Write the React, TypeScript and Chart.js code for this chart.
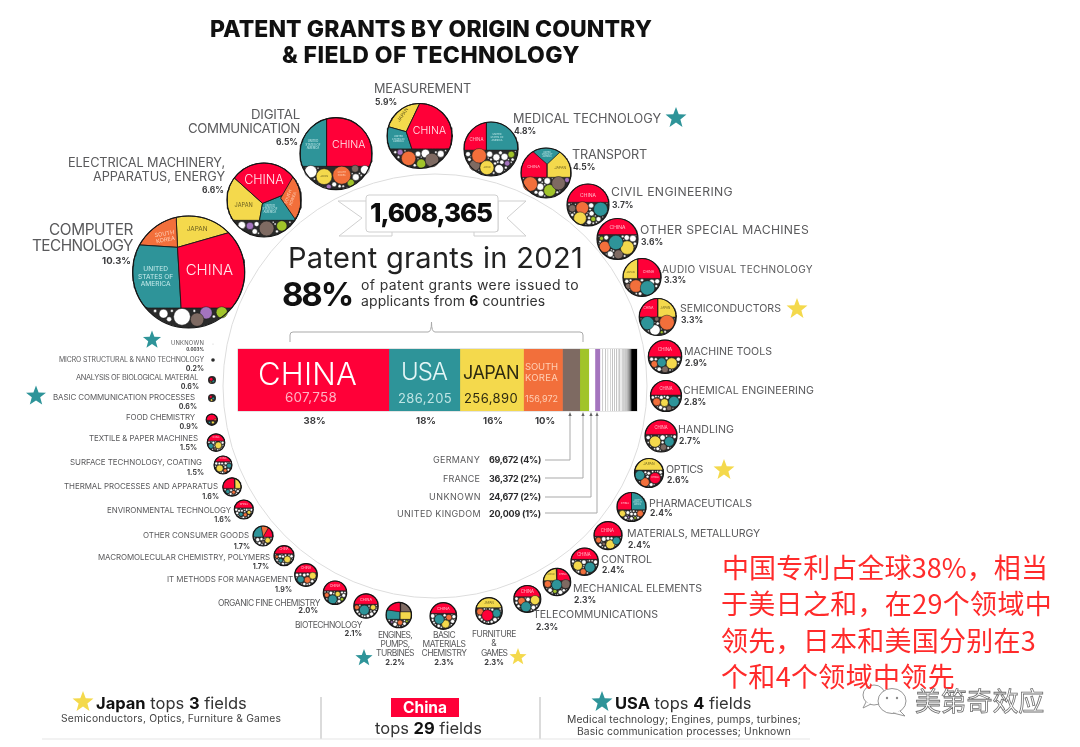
import React, { useEffect, useRef } from "react";
import { Chart, registerables } from "chart.js";
Chart.register(...registerables);

/* ---------- data ---------- */
const totalGrants = 1608365;
const barNames = ["CHINA", "USA", "JAPAN", "SOUTH KOREA", "GERMANY", "FRANCE", "UNKNOWN", "UNITED KINGDOM"];
const barCodes = ["CN", "US", "JP", "KR", "DE", "FR", "XX", "UK"];
const barValues = [607758, 286205, 256890, 156972, 69672, 36372, 24677, 20009];
const otherCountries = [12000, 11000, 10000, 9500, 9000, 8500, 7500, 6800, 6000, 5500, 5000, 4500, 4000, 3600, 3200, 2900, 2600, 2300, 2000, 1800, 1600, 1400, 1200, 1000, 900, 800, 700, 600];
const restOfWorld = 23910;

const fieldNames = [
  "COMPUTER\nTECHNOLOGY", "ELECTRICAL MACHINERY,\nAPPARATUS, ENERGY", "DIGITAL\nCOMMUNICATION", "MEASUREMENT",
  "MEDICAL TECHNOLOGY", "TRANSPORT", "CIVIL ENGINEERING", "OTHER SPECIAL MACHINES", "AUDIO VISUAL TECHNOLOGY",
  "SEMICONDUCTORS", "MACHINE TOOLS", "CHEMICAL ENGINEERING", "HANDLING", "OPTICS", "PHARMACEUTICALS",
  "MATERIALS, METALLURGY", "CONTROL", "MECHANICAL ELEMENTS", "TELECOMMUNICATIONS", "FURNITURE\n&\nGAMES",
  "BASIC\nMATERIALS\nCHEMISTRY", "ENGINES,\nPUMPS,\nTURBINES", "BIOTECHNOLOGY", "ORGANIC FINE CHEMISTRY",
  "IT METHODS FOR MANAGEMENT", "MACROMOLECULAR CHEMISTRY, POLYMERS", "OTHER CONSUMER GOODS", "ENVIRONMENTAL TECHNOLOGY",
  "THERMAL PROCESSES AND APPARATUS", "SURFACE TECHNOLOGY, COATING", "TEXTILE & PAPER MACHINES", "FOOD CHEMISTRY",
  "BASIC COMMUNICATION PROCESSES", "ANALYSIS OF BIOLOGICAL MATERIAL", "MICRO STRUCTURAL & NANO TECHNOLOGY", "UNKNOWN",
];
const fieldShares = ["10.3", "6.6", "6.5", "5.9", "4.8", "4.5", "3.7", "3.6", "3.3", "3.3", "2.9", "2.8", "2.7", "2.6", "2.4", "2.4", "2.4", "2.3", "2.3", "2.3", "2.3", "2.2", "2.1", "2.0", "1.9", "1.7", "1.7", "1.6", "1.6", "1.5", "1.5", "0.9", "0.6", "0.6", "0.2", "0.003"];

/* ---------- style ---------- */
const COLORS: Record<string, string> = { CN: "#FF0038", US: "#2E9499", JP: "#F4D94C", KR: "#F26F3B", DE: "#7E6A62", FR: "#A1C42A", XX: "#FFFFFF", UK: "#A474BE" };
const INNER_TEXT: Record<string, string> = { CN: "CHINA", US: "UNITED\nSTATES OF\nAMERICA", JP: "JAPAN", KR: "SOUTH\nKOREA", DE: "GERMANY" };
const INNER_COLOR: Record<string, string> = { CN: "#ffe8ee", US: "#c8ecec", JP: "#6a5f20", KR: "#ffd2ba", DE: "#cbbdb6" };
const FONT = "Inter, 'Noto Sans', sans-serif";
const CJK = "'Noto Sans CJK SC', sans-serif";
const GREY = "#5a5a5c";

/* ---------- layout: circle c=[x,y,r]; label placement; hub, cut and wedge angles of the
   country cells in circle units; packed bubbles [code,u,v,r]; inner text [code,u,v,size,rotation] ---------- */
type F = any;
const FIELD_LAYOUT: F[] = [
  { c: [188.7, 272, 56], a: "r", tx: 133, ty: [230, 246], s: 14.5, w: [84, 101], p: [131, 261], ps: 9.5, hub: [-.2, -.44], cut: .645,
    cells: [["CN", 344, 446.6], ["US", 86.6, 183.6], ["KR", 183.6, 267.5], ["JP", 267.5, 344]],
    b: [["DE", .15, .85, .12], ["XX", -.12, .8, .15], ["UK", .31, .73, .11], ["FR", .59, .72, .1]],
    t: [["CN", .37, -.04, 15], ["US", -.59, .09, 6.6], ["KR", -.42, -.63, 5.6, -10], ["JP", .15, -.75, 6.4]] },
  { c: [264, 200, 37], a: "r", tx: 225, ty: [163, 177], s: 12, w: [157, 132], p: [224, 190], ps: 8.5, hub: [-.04, .09], cut: .55,
    cells: [["KR", 300, 415.4, [.45, -.05]], ["CN", 222, 338], ["US", 338, 460], ["JP", 100, 222]],
    b: [["DE", .07, .77, .2], ["UK", -.38, .7, .1], ["FR", .48, .7, .14], ["XX", -.6, .68, .1]],
    t: [["CN", 0, -.55, 12.5], ["JP", -.55, .14, 5.6], ["KR", .73, -.05, 4.2, -70], ["US", .16, .27, 2.8]] },
  { c: [336, 153.6, 36], a: "r", tx: 300, ty: [115, 129], s: 12.5, w: [49, 112], p: [298, 142], ps: 8.5, hub: [-.26, .355], cut: .355,
    cells: [["CN", 270, 360], ["US", 180, 270]],
    b: [["JP", -.33, .64, .22], ["KR", .16, .6, .25], ["XX", -.7, .5, .17], ["DE", .53, .42, .1], ["FR", .41, .81, .1], ["UK", -.2, .92, .07], ["XX", .8, .45, .12]],
    t: [["CN", .35, -.23, 10.5], ["US", -.64, -.23, 2.8], ["JP", -.33, .64, 2.4], ["KR", .16, .6, 2.4]] },
  { c: [419.6, 136, 32.5], a: "l", tx: 374, ty: [89], s: 12, w: [97], p: [375, 102], ps: 8.5, hub: [-.41, -.13], cut: .4,
    cells: [["CN", 295.4, 431.9], ["US", 71.9, 195.8], ["JP", 195.8, 295.4]],
    b: [["KR", -.34, .69, .22], ["DE", .38, .74, .21], ["FR", .05, .85, .14], ["UK", -.6, .5, .09], ["XX", .18, .54, .13]],
    t: [["CN", .3, -.15, 10.5], ["JP", -.5, -.65, 4.8, -55], ["US", -.65, .12, 2.4]] },
  { c: [491, 149, 27], a: "l", tx: 513, ty: [119], s: 12, w: [148], p: [514, 131], ps: 8.5, hub: [-.17, .04], cut: .04,
    cells: [["CN", 180, 270], ["US", 270, 360]],
    b: [["JP", -.15, .69, .26], ["KR", -.44, .25, .27], ["DE", -.6, .6, .2], ["FR", .75, .2, .12], ["UK", .6, .53, .1], ["XX", .2, .31, .13]],
    t: [["CN", -.54, -.33, 4.4], ["US", .22, -.4, 2.4], ["JP", -.15, .69, 2.2]] },
  { c: [546, 173, 25], a: "l", tx: 572, ty: [155], s: 12, w: [75], p: [573, 167], ps: 8.5, hub: [.04, -.35], cut: .17,
    cells: [["CN", 90, 222], ["US", 222, 316.5], ["JP", 316.5, 450]],
    b: [["KR", -.63, .44, .29], ["DE", .5, .41, .27], ["FR", .15, .7, .24], ["UK", .84, .28, .1], ["XX", -.23, .55, .14]],
    t: [["CN", -.5, -.23, 4], ["US", .04, -.78, 2], ["JP", .57, -.19, 3.6]] },
  { c: [588, 205, 21], a: "l", tx: 611, ty: [192], s: 11.5, w: [122], p: [612, 205], ps: 8.5, hub: [0, -.13], cut: -.13,
    cells: [["CN", 180, 360]],
    b: [["US", .6, .2, .33], ["KR", -.27, .14, .3], ["JP", -.38, .63, .3], ["DE", -.75, .16, .17], ["FR", .25, .67, .12], ["XX", .17, .4, .12]],
    t: [["CN", 0, -.43, 5]] },
  { c: [617.5, 239, 20.5], a: "l", tx: 640, ty: [230], s: 11.5, w: [169], p: [641, 242], ps: 8.5, hub: [0, -.22], cut: -.22,
    cells: [["CN", 180, 360]],
    b: [["US", -.08, .17, .35], ["JP", .47, .42, .33], ["KR", -.62, .38, .27], ["DE", .05, .75, .22], ["FR", -.78, -.03, .1]],
    t: [["CN", 0, -.52, 5]] },
  { c: [642, 277.5, 19], a: "l", tx: 662, ty: [269], s: 9.5, w: [151], p: [664, 280], ps: 8.5, hub: [-.23, .05], cut: .05,
    cells: [["JP", 180, 270], ["CN", 270, 360]],
    b: [["US", .29, .55, .38], ["KR", -.32, .45, .33], ["XX", .52, .23, .14], ["DE", -.73, .46, .15]],
    t: [["JP", -.6, -.27, 2.6], ["CN", .34, -.27, 3.6]] },
  { c: [657.7, 317, 18.5], a: "l", tx: 680, ty: [309], s: 10, w: [101], p: [681, 320], ps: 8.5, hub: [0, 0], cut: 0,
    cells: [["CN", 180, 270], ["JP", 270, 360]],
    b: [["KR", .5, .3, .4], ["US", -.56, .33, .36], ["XX", -.15, .7, .28], ["DE", -.05, .11, .12], ["FR", .22, .82, .08]],
    t: [["CN", -.5, -.44, 3.2], ["JP", .42, -.44, 3]] },
  { c: [665, 356.7, 16.7], a: "l", tx: 684, ty: [352], s: 10, w: [88], p: [685, 363], ps: 8.5, hub: [0, 0], cut: 0,
    cells: [["CN", 180, 360]],
    b: [["JP", .4, .4, .33], ["US", -.2, .34, .27], ["KR", -.64, .44, .2], ["DE", 0, .76, .2]],
    t: [["CN", 0, -.4, 4.4]] },
  { c: [666, 396, 15.5], a: "l", tx: 683, ty: [391], s: 10, w: [131], p: [684, 402], ps: 8.5, hub: [0, -.06], cut: -.06,
    cells: [["CN", 180, 360]],
    b: [["US", .51, .36, .34], ["JP", -.1, .43, .25], ["KR", -.6, .38, .25], ["DE", .2, .79, .17]],
    t: [["CN", 0, -.45, 4.2]] },
  { c: [661, 436, 16], a: "l", tx: 678, ty: [430], s: 10, w: [56], p: [679, 441], ps: 8.5, hub: [0, -.1], cut: -.1,
    cells: [["CN", 180, 360]],
    b: [["JP", -.37, .35, .35], ["DE", .15, .7, .2], ["US", .52, .35, .3]],
    t: [["CN", 0, -.5, 4.2]] },
  { c: [649, 473, 14.5], a: "l", tx: 666, ty: [470], s: 10, w: [37], p: [667, 480], ps: 8.5, hub: [0, -.2], cut: -.2,
    cells: [["JP", 180, 360]],
    b: [["CN", .42, .35, .38], ["US", -.63, .16, .33], ["KR", -.28, .63, .3], ["XX", -.02, .02, .12]],
    t: [["JP", 0, -.55, 3.4], ["CN", .42, .35, 2.4]] },
  { c: [631.5, 507, 14.5], a: "l", tx: 649, ty: [504], s: 10, w: [103], p: [650, 513], ps: 8.5, hub: [0, .19], cut: .19,
    cells: [["CN", 180, 270], ["US", 270, 360]],
    b: [["JP", -.63, .45, .22], ["KR", .6, .45, .22], ["XX", 0, .48, .12], ["UK", -.2, .7, .08], ["FR", .25, .75, .09]],
    t: [["CN", -.45, -.25, 2.6], ["US", .42, -.25, 1.6]] },
  { c: [608, 535.6, 14], a: "l", tx: 627, ty: [534], s: 10, w: [133], p: [628, 545], ps: 8.5, hub: [0, .05], cut: .05,
    cells: [["CN", 180, 360]],
    b: [["JP", .17, .63, .32], ["US", .6, .37, .27], ["KR", -.68, .32, .2], ["DE", -.3, .6, .13]],
    t: [["CN", -.05, -.32, 4.2]] },
  { c: [584.6, 561.7, 13.7], a: "l", tx: 601, ty: [560], s: 10, w: [51], p: [602, 570], ps: 8.5, hub: [0, -.17], cut: -.17,
    cells: [["CN", 180, 360]],
    b: [["JP", -.49, .29, .33], ["US", .39, .41, .37], ["KR", -.1, .73, .22]],
    t: [["CN", -.05, -.5, 4.2]] },
  { c: [557, 582, 13.7], a: "l", tx: 573, ty: [589], s: 10, w: [129], p: [574, 600], ps: 8.5, hub: [-.02, -.1], cut: -.1,
    cells: [["JP", 180, 270], ["CN", 270, 360]],
    b: [["US", -.02, .2, .37], ["KR", -.68, .15, .25], ["DE", .63, .15, .33], ["FR", -.15, .68, .15]],
    t: [["JP", -.45, -.5, 2.2], ["CN", .42, -.5, 2.4]] },
  { c: [527.3, 599, 13.5], a: "l", tx: 533, ty: [615], s: 10, w: [125], p: [536, 627], ps: 8.5, hub: [0, -.17], cut: -.17,
    cells: [["CN", 180, 360]],
    b: [["US", -.1, .58, .37], ["JP", .57, .08, .34], ["KR", -.42, .15, .27]],
    t: [["CN", 0, -.5, 4.2]] },
  { c: [489, 611, 13.3], a: "c", tx: 494, ty: [634, 643, 653], s: 8, w: [44, 0, 26], p: [494, 663], ps: 7.5, hub: [0, -.25], cut: -.25,
    cells: [["JP", 180, 360]],
    b: [["CN", -.12, .33, .42], ["US", .57, .17, .3], ["KR", -.67, .05, .25]],
    t: [["JP", 0, -.55, 3]] },
  { c: [443.3, 616, 13.3], a: "c", tx: 444, ty: [635, 644, 653], s: 8, w: [22, 43, 45], p: [444, 663], ps: 7.5, hub: [0, -.2], cut: -.2,
    cells: [["CN", 180, 360]],
    b: [["US", -.3, .25, .36], ["JP", .17, .6, .3], ["KR", .42, .1, .22]],
    t: [["CN", 0, -.5, 4]] },
  { c: [398.8, 615, 12.7], a: "c", tx: 395, ty: [635, 644, 653], s: 8, w: [34, 29, 38], p: [395, 663], ps: 7.5, hub: [.1, -.26], cut: .34,
    cells: [["CN", 188, 274], ["DE", 274, 360], ["JP", 0, 90], ["US", 90, 188]],
    b: [["KR", .1, .6, .2], ["FR", .63, .5, .1], ["UK", -.55, .55, .1]],
    t: [] },
  { c: [366, 606, 12.2], a: "r", tx: 362, ty: [625], s: 8, w: [67], p: [362, 634], ps: 7.5, hub: [0, -.14], cut: -.14,
    cells: [["CN", 180, 360]],
    b: [["US", -.14, .33, .4], ["JP", .58, .11, .22], ["KR", -.75, .11, .2]],
    t: [["CN", 0, -.5, 3.8]] },
  { c: [335, 592.7, 11.7], a: "r", tx: 320, ty: [603], s: 8, w: [102], p: [318, 611], ps: 7.5, hub: [0, -.17], cut: -.17,
    cells: [["CN", 180, 360]],
    b: [["US", -.2, .57, .38], ["JP", .23, .11, .22], ["KR", -.7, .2, .2], ["FR", .6, .55, .15]],
    t: [["CN", 0, -.5, 3.4]] },
  { c: [306, 575, 11.3], a: "r", tx: 293, ty: [580], s: 7.5, w: [126], p: [292, 589], ps: 7, hub: [0, -.2], cut: -.2,
    cells: [["CN", 180, 360]],
    b: [["US", -.47, .38, .3], ["KR", .12, .44, .28], ["JP", .59, .06, .3]],
    t: [["CN", 0, -.55, 3.2]] },
  { c: [284, 555.7, 10], a: "r", tx: 270, ty: [558], s: 7.5, w: [172], p: [269, 566], ps: 7, hub: [0, -.2], cut: -.2,
    cells: [["CN", 180, 360]],
    b: [["JP", .33, .37, .33], ["US", -.33, .47, .2], ["KR", -.72, .1, .16]],
    t: [["CN", 0, -.55, 2.8]] },
  { c: [263, 536, 10], a: "r", tx: 249, ty: [536], s: 7.5, w: [106], p: [250, 546], ps: 7, hub: [0, .1], cut: .1,
    cells: [["US", 180, 260], ["KR", 260, 300], ["CN", 300, 360]],
    b: [["JP", .47, .43, .27], ["XX", -.53, .37, .2], ["DE", .02, .6, .16]],
    t: [] },
  { c: [243.8, 509.5, 9.5], a: "r", tx: 231, ty: [511], s: 7.5, w: [124], p: [231, 519], ps: 7, hub: [0, -.17], cut: -.17,
    cells: [["CN", 180, 360]],
    b: [["US", -.3, .5, .22], ["KR", .15, .55, .2], ["JP", .55, .3, .2]],
    t: [["CN", 0, -.55, 2.6]] },
  { c: [232, 487, 9.2], a: "r", tx: 218, ty: [487], s: 7.5, w: [154], p: [219, 496], ps: 7, hub: [.3, .15], cut: .15,
    cells: [["CN", 180, 270], ["JP", 270, 360]],
    b: [["US", -.46, .5, .22], ["KR", .18, .57, .2]],
    t: [] },
  { c: [223, 465, 9], a: "r", tx: 202, ty: [463], s: 7.5, w: [132], p: [204, 472], ps: 7, hub: [0, -.37], cut: -.37,
    cells: [["CN", 180, 360]],
    b: [["JP", -.37, .37, .38], ["US", .67, .07, .27], ["KR", .25, .62, .2]],
    t: [["CN", 0, -.65, 2.2]] },
  { c: [216, 442.7, 8.8], a: "r", tx: 198, ty: [439], s: 7.5, w: [109], p: [197, 447], ps: 7, hub: [0, -.2], cut: -.2,
    cells: [["CN", 180, 360]],
    b: [["JP", .27, .3, .38], ["US", -.6, .38, .3], ["DE", -.1, .7, .15]],
    t: [["CN", 0, -.55, 2.2]] },
  { c: [211.8, 419.7, 5.6], a: "r", tx: 195, ty: [418], s: 7.5, w: [69], p: [198, 426], ps: 7, hub: [0, .1], cut: .1,
    cells: [["CN", 180, 360]],
    b: [["JP", .2, .5, .25], ["US", -.4, .5, .2], ["KR", .6, 0, .2]],
    t: [] },
  { c: [212, 398, 4], a: "r", tx: 195, ty: [398], s: 7.5, w: [142], p: [197, 406], ps: 7, hub: [0, -1], cut: -1, cells: [],
    b: [["CN", -.3, -.3, .35], ["US", .3, .1, .3], ["JP", -.1, .5, .3]], t: [] },
  { c: [212, 380, 4], a: "r", tx: 198, ty: [378], s: 7, w: [122], p: [199, 386], ps: 7, hub: [0, -1], cut: -1, cells: [],
    b: [["CN", -.2, -.2, .45], ["US", .3, .3, .3], ["JP", -.3, .5, .2]], t: [] },
  { c: [213, 360, 1.8], a: "r", tx: 204, ty: [360], s: 6.5, w: [145], p: [204, 368], ps: 7, hub: [0, -1], cut: -1, cells: [], b: [], t: [] },
  { c: [213, 344, .3], a: "r", tx: 204, ty: [343], s: 5.5, w: [33], p: [204, 350], ps: 4.5, hub: [0, -1], cut: -1, cells: [], b: [], t: [] },
];

const STARS: [number, number, number, string][] = [
  [676, 118, 11, "US"], [797, 309, 11, "JP"], [724, 470, 11, "JP"], [518, 657, 9, "JP"], [364, 658, 9, "US"],
  [36, 396, 10.5, "US"], [152, 340, 9.5, "US"], [83, 702, 11, "JP"], [602, 702, 11, "US"],
];

/* ---------- geometry ---------- */
function cellOutline(hub: number[], cut: number, a0: number, a1: number) {
  const pts: number[][] = [[hub[0], hub[1]]];
  const n = Math.max(2, Math.ceil((a1 - a0) / 3));
  for (let i = 0; i <= n; i++) {
    const th = ((a0 + ((a1 - a0) * i) / n) * Math.PI) / 180;
    const c = Math.cos(th), s = Math.sin(th);
    const b = hub[0] * c + hub[1] * s;
    const k = hub[0] * hub[0] + hub[1] * hub[1] - 1;
    let t = -b + Math.sqrt(Math.max(0, b * b - k));
    if (hub[1] + t * s > cut && s > 1e-6) t = Math.max(0, (cut - hub[1]) / s);
    pts.push([hub[0] + t * c, hub[1] + t * s]);
  }
  pts.push([hub[0], hub[1]]);
  return pts;
}

function packOthers(f: F) {
  const R = f.c[2];
  const occupied: number[][] = f.b.map((b: any[]) => [b[1], b[2], b[3]]);
  const placed: number[][] = [];
  if (R < 6) return placed;
  const cand: number[][] = [];
  for (let v = f.cut; v <= 1; v += 0.05) for (let u = -1; u <= 1; u += 0.05) if (u * u + v * v < 1) cand.push([u, v]);
  cand.sort((p, q) => q[0] * q[0] + q[1] * q[1] - (p[0] * p[0] + p[1] * p[1]));
  for (const pass of [1, 0.65]) {
    for (const val of otherCountries) {
      const ru = 0.16 * Math.sqrt(val / otherCountries[0]) * pass;
      if (ru * R < 0.55) continue;
      for (const [u, v] of cand) {
        if (Math.hypot(u, v) + ru > 0.96 || v - ru < f.cut + 0.02) continue;
        let ok = true;
        for (const o of occupied) if (Math.hypot(u - o[0], v - o[1]) < ru + o[2] + 0.015) { ok = false; break; }
        if (!ok) continue;
        occupied.push([u, v, ru]);
        placed.push([u, v, ru]);
        break;
      }
    }
  }
  return placed;
}

function buildMainDatasets() {
  const ds: any[] = [];
  ds.push({ type: "bubble", label: "ring", data: [{ x: 435, y: 386, r: 212 }], backgroundColor: "rgba(255,255,255,0)", borderColor: "#dddddd", borderWidth: 1, order: 1000 });
  ds.push({
    type: "bubble", label: "fields", order: 900, backgroundColor: "#2a2a2a", borderColor: "#2a2a2a", borderWidth: 0,
    data: FIELD_LAYOUT.map((f) => ({ x: f.c[0], y: f.c[1], r: f.c[2] })),
  });
  FIELD_LAYOUT.forEach((f, i) => {
    const R = f.c[2];
    f.cells.forEach((cell: any[]) => {
      const [code, a0, a1, ownHub] = cell;
      ds.push({
        type: "scatter", label: fieldNames[i] + " " + code, order: 800, showLine: true, fill: "shape", tension: 0,
        pointRadius: 0, backgroundColor: COLORS[code], borderColor: "#1a1a1a", borderWidth: R > 30 ? 0.9 : 0.5,
        data: cellOutline(ownHub || f.hub, f.cut, a0, a1).map(([u, v]) => ({ x: f.c[0] + u * R, y: f.c[1] + v * R })),
      });
    });
  });
  Object.keys(COLORS).forEach((code) => {
    const data: any[] = [];
    FIELD_LAYOUT.forEach((f) => f.b.forEach((b: any[]) => {
      if (b[0] === code) data.push({ x: f.c[0] + b[1] * f.c[2], y: f.c[1] + b[2] * f.c[2], r: b[3] * f.c[2] });
    }));
    ds.push({ type: "bubble", label: code, order: 700, data, backgroundColor: COLORS[code], borderColor: "#1a1a1a", borderWidth: 0.5 });
  });
  const minor: any[] = [];
  FIELD_LAYOUT.forEach((f) => packOthers(f).forEach(([u, v, r]) => minor.push({ x: f.c[0] + u * f.c[2], y: f.c[1] + v * f.c[2], r: r * f.c[2] })));
  ds.push({ type: "bubble", label: "other countries", order: 690, data: minor, backgroundColor: "#ffffff", borderColor: "#1a1a1a", borderWidth: 0.4 });
  ds.push({
    type: "bubble", label: "rims", order: 600, backgroundColor: "rgba(0,0,0,0)", borderColor: "#161616", borderWidth: 1.2,
    data: FIELD_LAYOUT.filter((f) => f.c[2] > 5).map((f) => ({ x: f.c[0], y: f.c[1], r: f.c[2] })),
  });
  return ds;
}

/* ---------- text ---------- */
let measureCtx: CanvasRenderingContext2D | null = null;
function letterFit(text: string, size: number, weight: number, family: string, width?: number) {
  if (!width) return 0;
  if (!measureCtx) measureCtx = document.createElement("canvas").getContext("2d");
  measureCtx!.font = `${weight} ${size}px ${family}`;
  return (width - measureCtx!.measureText(text).width) / Math.max(1, text.length);
}

function T({ x, y, text, size, weight = 400, color = GREY, align = "l", width, rot, family = FONT, extra }: any) {
  const tx = align === "r" ? "-100%" : align === "c" ? "-50%" : "0";
  return (
    <div style={{
      position: "absolute", left: x, top: y, whiteSpace: "pre", lineHeight: 1, fontFamily: family, fontSize: size, fontWeight: weight, color,
      textAlign: align === "r" ? "right" : align === "c" ? "center" : "left",
      letterSpacing: letterFit(text, size, weight, family, width),
      transform: `translate(${tx},-50%)${rot ? ` rotate(${rot}deg)` : ""}`, ...extra,
    }}>{text}</div>
  );
}

function FieldTexts() {
  const items: any[] = [];
  FIELD_LAYOUT.forEach((f, i) => {
    fieldNames[i].split("\n").forEach((line, k) => {
      items.push(<T key={`n${i}-${k}`} x={f.tx} y={f.ty[k]} text={line} size={f.s * 1.06} align={f.a} width={f.w[k] || undefined} />);
    });
    items.push(<T key={`p${i}`} x={f.p[0]} y={f.p[1]} text={`${fieldShares[i]}%`} size={f.ps} weight={700} color="#3c3c3e" align={f.a} />);
    f.t.forEach((t: any[], k: number) => {
      items.push(<T key={`t${i}-${k}`} x={f.c[0] + t[1] * f.c[2]} y={f.c[1] + t[2] * f.c[2]} text={INNER_TEXT[t[0]]} size={t[3]} weight={t[0] === "CN" ? 300 : 400}
        color={INNER_COLOR[t[0]]} align="c" rot={t[4]} extra={{ lineHeight: 1.15 }} />);
    });
  });
  return <>{items}</>;
}

function starPoints(cx: number, cy: number, r: number) {
  const out: string[] = [];
  for (let i = 0; i < 10; i++) {
    const rr = i % 2 ? r * 0.42 : r;
    const a = -Math.PI / 2 + (i * Math.PI) / 5;
    out.push(`${cx + rr * Math.cos(a)},${cy + rr * Math.sin(a)}`);
  }
  return out.join(" ");
}

function Decor() {
  const line = { fill: "none", stroke: "#a9a9a9", strokeWidth: 1 };
  return (
    <svg width={1080} height={747} style={{ position: "absolute", left: 0, top: 0, zIndex: 3 }}>
      {/* ribbon */}
      <polygon points="367,201 338,201 362,218 339,236 392,236 392,231 367,231" fill="#fff" stroke="#cfcfcf" />
      <polygon points="498,201 526,201 507,218 526,236 474,236 474,231 498,231" fill="#fff" stroke="#cfcfcf" />
      <rect x={366} y={195} width={132} height={37} rx={3} fill="#fff" stroke="#cfcfcf" />
      {/* bracket over the six countries */}
      <path d="M290 342 V335 Q290 332 293 332 H428 Q431.5 332 431.5 322 Q431.5 332 435 332 H580 Q583 332 583 335 V342" {...line} />
      {/* bar outline */}
      <rect x={238} y={349} width={399} height={62} fill="none" stroke="#bdbdbd" strokeWidth={0.8} />
      {/* leaders */}
      <path d="M545 460 H570 V414" {...line} />
      <path d="M545 478 H583 V414" {...line} />
      <path d="M545 497 H591 V414" {...line} />
      <path d="M545 513 H597 V414" {...line} />
      {[570, 583, 591, 597].map((x) => <polygon key={x} points={`${x - 1.6},416 ${x + 1.6},416 ${x},412`} fill="#666" />)}
      {/* stars */}
      {STARS.map(([x, y, r, c], i) => <polygon key={i} points={starPoints(x, y, r)} fill={COLORS[c]} />)}
      {/* footer rules */}
      <line x1={321} y1={697} x2={321} y2={739} stroke="#cfcfcf" strokeWidth={1.5} />
      <line x1={540} y1={697} x2={540} y2={739} stroke="#cfcfcf" strokeWidth={1.5} />
      <line x1={42} y1={739} x2={810} y2={739} stroke="#e6e6e6" strokeWidth={1.2} />
      {/* watermark icon */}
      <ellipse cx={874} cy={695} rx={11} ry={10} fill="#fff" stroke="#8a8a8a" strokeWidth={0.9} />
      <path d="M866 702 L863 708 L871 704" fill="#fff" stroke="#8a8a8a" strokeWidth={0.9} />
      <ellipse cx={892} cy={701} rx={14} ry={12.5} fill="#fff" stroke="#8a8a8a" strokeWidth={0.9} />
      <path d="M900 711 L905 716 L893 713" fill="#fff" stroke="#8a8a8a" strokeWidth={0.9} />
      <circle cx={887} cy={698} r={1.2} fill="#8a8a8a" />
      <circle cx={897} cy={698} r={1.2} fill="#8a8a8a" />
    </svg>
  );
}

function CenterTexts() {
  const fmt = (n: number) => n.toLocaleString("en-US");
  const dark = "#2b2b2d";
  const footer = { position: "absolute", transform: "translateY(-50%)", fontFamily: FONT, fontSize: 16.5, color: "#333", lineHeight: 1, whiteSpace: "pre" } as any;
  return (
    <>
      <T x={431} y={29} align="c" text="PATENT GRANTS BY ORIGIN COUNTRY" size={23} weight={800} color="#111" width={442} />
      <T x={431} y={55} align="c" text="& FIELD OF TECHNOLOGY" size={23} weight={800} color="#111" width={298} />
      <T x={431} y={213} align="c" text={fmt(totalGrants)} size={26} weight={800} color="#0c0c0c" width={122} />
      <T x={288} y={257} text="Patent grants in 2021" size={29} weight={400} color="#222" width={295} />
      <T x={282} y={294} text="88%" size={33} weight={700} color="#111" width={70} />
      <T x={361} y={285} text="of patent grants were issued to" size={14} color="#333" width={218} />
      <div style={{ position: "absolute", left: 361, top: 301, transform: "translateY(-50%)", fontFamily: FONT, fontSize: 14, color: "#333", lineHeight: 1, whiteSpace: "pre", letterSpacing: 0.1 }}>
        applicants from <b style={{ color: "#111" }}>6</b> countries
      </div>

      <T x={258} y={373} text="CHINA" size={31} weight={300} color="#fff" width={99} />
      <T x={311} y={398} align="c" text={fmt(barValues[0])} size={13.5} color="#ffb3c4" width={52} />
      <T x={424} y={372} align="c" text="USA" size={24} weight={300} color="#e4f6f6" width={46} />
      <T x={425} y={398} align="c" text={fmt(barValues[1])} size={13} color="#bfe4e4" width={54} />
      <T x={491} y={373} align="c" text="JAPAN" size={18} color="#2d2a10" width={56} />
      <T x={491} y={398} align="c" text={fmt(barValues[2])} size={13} color="#2d2a10" width={54} />
      <T x={541.5} y={367} align="c" text="SOUTH" size={9.5} color="#ffd0b5" width={33} />
      <T x={541.5} y={378} align="c" text="KOREA" size={9.5} color="#ffd0b5" width={33} />
      <T x={541.5} y={398} align="c" text={fmt(barValues[3])} size={9} color="#ffd0b5" width={33} />
      {["38%", "18%", "16%", "10%"].map((t, i) => (
        <T key={t} x={[314.6, 426, 493, 545][i]} y={421} align="c" text={t} size={9.5} weight={700} color="#3c3c3e" />
      ))}

      {[[459, 4, "4%", 480, 47], [478, 5, "2%", 480, 37], [496, 6, "2%", 481, 52], [513, 7, "1%", 481, 84]].map(([y, idx, pct, right, w]: any) => (
        <React.Fragment key={idx}>
          <T x={right} y={y} align="r" text={barNames[idx]} size={9} width={w} />
          <T x={489} y={y} text={`${fmt(barValues[idx])} (${pct})`} size={9} weight={700} color={dark} width={52} />
        </React.Fragment>
      ))}

      <div style={{ ...footer, left: 96, top: 703 }}>
        <b style={{ color: "#111" }}>Japan</b> tops <b style={{ color: "#111" }}>3</b> fields
      </div>
      <T x={61} y={718} text="Semiconductors, Optics, Furniture & Games" size={10.3} color="#444" width={220} />
      <div style={{ position: "absolute", left: 391, top: 698, width: 68, height: 19, background: COLORS.CN }} />
      <T x={425} y={707.5} align="c" text="China" size={15.5} weight={700} color="#fff" />
      <div style={{ ...footer, left: 375, top: 728 }}>
        tops <b style={{ color: "#111" }}>29</b> fields
      </div>
      <div style={{ ...footer, left: 615, top: 703 }}>
        <b style={{ color: "#111" }}>USA</b> tops <b style={{ color: "#111" }}>4</b> fields
      </div>
      <T x={567} y={719} text="Medical technology; Engines, pumps, turbines;" size={10.3} color="#444" width={234} />
      <T x={577} y={731} text="Basic communication processes; Unknown" size={10.3} color="#444" width={214} />

      <T x={722} y={566} text="中国专利占全球38%，相当" size={27} color="#ff2b2b" family={CJK} width={326} />
      <T x={721} y={602} text="于美日之和，在29个领域中" size={27} color="#ff2b2b" family={CJK} width={331} />
      <T x={721} y={639} text="领先，日本和美国分别在3" size={27} color="#ff2b2b" family={CJK} width={315} />
      <T x={721} y={675} text="个和4个领域中领先" size={27} color="#ff2b2b" family={CJK} width={234} />
      <T x={915} y={700} text="美第奇效应" size={26} color="#fff" family={CJK} width={129} extra={{ WebkitTextStroke: "0.8px #6f6f6f" }} />
    </>
  );
}

export default function App() {
  const mainRef = useRef<HTMLCanvasElement>(null);
  const barRef = useRef<HTMLCanvasElement>(null);

  useEffect(() => {
    document.body.style.margin = "0";
    const main = new Chart(mainRef.current!, {
      type: "bubble",
      data: { datasets: buildMainDatasets() },
      options: {
        animation: false, responsive: false, events: [],
        layout: { padding: 0, autoPadding: false },
        plugins: { legend: { display: false }, tooltip: { enabled: false } },
        scales: {
          x: { type: "linear", min: 0, max: 1080, display: false },
          y: { type: "linear", min: 0, max: 747, reverse: true, display: false },
        },
      },
    } as any);

    const stripeColor = (i: number) => {
      if (i < 14) return "#ffffff";
      const g = Math.round(205 - ((i - 14) * 150) / 13);
      return `rgb(${g},${g},${g})`;
    };
    const bar = new Chart(barRef.current!, {
      type: "bar",
      data: {
        labels: ["2021"],
        datasets: [
          ...barValues.map((v, i) => ({ label: barNames[i], data: [v], backgroundColor: COLORS[barCodes[i]], borderWidth: 0 })),
          ...otherCountries.map((v, i) => ({
            label: `other ${i + 1}`, data: [v], backgroundColor: stripeColor(i),
            borderColor: "#a8a8a8", borderWidth: i < 14 ? { left: 0, right: 0.7, top: 0, bottom: 0 } : 0, borderSkipped: false,
          })),
          { label: "rest of world", data: [restOfWorld], backgroundColor: "#000000", borderWidth: 0 },
        ],
      },
      options: {
        indexAxis: "y", animation: false, responsive: false, events: [],
        layout: { padding: 0, autoPadding: false },
        datasets: { bar: { barPercentage: 1, categoryPercentage: 1 } },
        plugins: { legend: { display: false }, tooltip: { enabled: false } },
        scales: {
          x: { stacked: true, min: 0, max: totalGrants, display: false },
          y: { stacked: true, display: false },
        },
      },
    } as any);
    return () => { main.destroy(); bar.destroy(); };
  }, []);

  return (
    <div style={{ position: "absolute", left: 0, top: 0, width: 1080, height: 747, overflow: "hidden", background: "#fff" }}>
      <canvas ref={mainRef} width={1080} height={747} style={{ position: "absolute", left: 0, top: 0, zIndex: 1 }} />
      <Decor />
      <canvas ref={barRef} width={399} height={62} style={{ position: "absolute", left: 238, top: 349, zIndex: 4 }} />
      <div style={{ position: "absolute", left: 0, top: 0, width: 1080, height: 747, zIndex: 5 }}>
        <FieldTexts />
        <CenterTexts />
      </div>
    </div>
  );
}
